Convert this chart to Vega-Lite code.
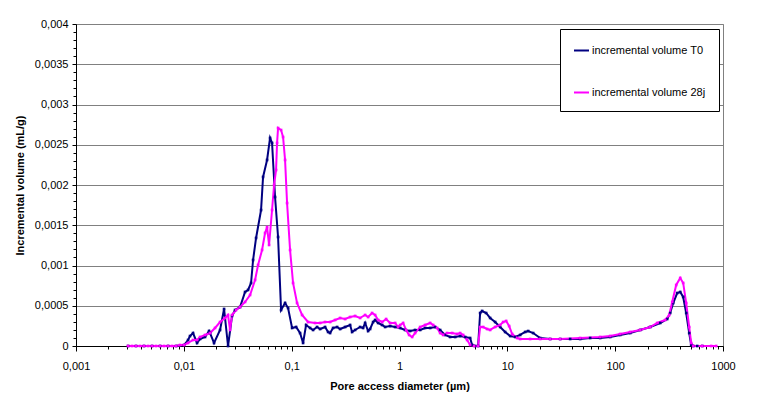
{
  "$schema": "https://vega.github.io/schema/vega-lite/v6.json",
  "width": 647,
  "height": 322,
  "autosize": {"type": "none"},
  "padding": {"left": 76, "top": 24, "right": 42, "bottom": 52},
  "background": "white",
  "config": {
    "font": "Liberation Sans",
    "view": {"stroke": "#808080", "strokeWidth": 1},
    "axis": {"domainColor": "black", "tickColor": "black", "labelColor": "black", "titleColor": "black", "labelFontSize": 11, "titleFontSize": 11, "titleFontWeight": "bold", "labelFont": "Liberation Sans", "titleFont": "Liberation Sans"}
  },
  "data": {"values": [
    {"series":"incremental volume T0","d":0.00304,"v":0},
    {"series":"incremental volume T0","d":0.0036,"v":0},
    {"series":"incremental volume T0","d":0.00427,"v":0},
    {"series":"incremental volume T0","d":0.00507,"v":0},
    {"series":"incremental volume T0","d":0.00602,"v":0},
    {"series":"incremental volume T0","d":0.00714,"v":0},
    {"series":"incremental volume T0","d":0.00847,"v":0},
    {"series":"incremental volume T0","d":0.01004,"v":0.0000124},
    {"series":"incremental volume T0","d":0.01094,"v":0.0000745},
    {"series":"incremental volume T0","d":0.01141,"v":0.000124},
    {"series":"incremental volume T0","d":0.01217,"v":0.000161},
    {"series":"incremental volume T0","d":0.01326,"v":0.0000373},
    {"series":"incremental volume T0","d":0.01413,"v":0.000087},
    {"series":"incremental volume T0","d":0.01573,"v":0.000112},
    {"series":"incremental volume T0","d":0.01713,"v":0.000186},
    {"series":"incremental volume T0","d":0.0175,"v":0.000161},
    {"series":"incremental volume T0","d":0.01906,"v":0.0000373},
    {"series":"incremental volume T0","d":0.02167,"v":0.000199},
    {"series":"incremental volume T0","d":0.02361,"v":0.00046},
    {"series":"incremental volume T0","d":0.0257,"v":0},
    {"series":"incremental volume T0","d":0.028,"v":0.000373},
    {"series":"incremental volume T0","d":0.02985,"v":0.000447},
    {"series":"incremental volume T0","d":0.03321,"v":0.000484},
    {"series":"incremental volume T0","d":0.03697,"v":0.000671},
    {"series":"incremental volume T0","d":0.0394,"v":0.000696},
    {"series":"incremental volume T0","d":0.04202,"v":0.000783},
    {"series":"incremental volume T0","d":0.04386,"v":0.001068},
    {"series":"incremental volume T0","d":0.04676,"v":0.001342},
    {"series":"incremental volume T0","d":0.05202,"v":0.001689},
    {"series":"incremental volume T0","d":0.05429,"v":0.0021},
    {"series":"incremental volume T0","d":0.05914,"v":0.002311},
    {"series":"incremental volume T0","d":0.06305,"v":0.002584},
    {"series":"incremental volume T0","d":0.06579,"v":0.002522},
    {"series":"incremental volume T0","d":0.07015,"v":0.001851},
    {"series":"incremental volume T0","d":0.07479,"v":0.001354},
    {"series":"incremental volume T0","d":0.07975,"v":0.000447},
    {"series":"incremental volume T0","d":0.08686,"v":0.000534},
    {"series":"incremental volume T0","d":0.09261,"v":0.000472},
    {"series":"incremental volume T0","d":0.1009,"v":0.000224},
    {"series":"incremental volume T0","d":0.1099,"v":0.000236},
    {"series":"incremental volume T0","d":0.1196,"v":0.000161},
    {"series":"incremental volume T0","d":0.1276,"v":0.0000373},
    {"series":"incremental volume T0","d":0.136,"v":0.000261},
    {"series":"incremental volume T0","d":0.1482,"v":0.000224},
    {"series":"incremental volume T0","d":0.1579,"v":0.000199},
    {"series":"incremental volume T0","d":0.172,"v":0.000236},
    {"series":"incremental volume T0","d":0.1834,"v":0.000211},
    {"series":"incremental volume T0","d":0.2041,"v":0.000236},
    {"series":"incremental volume T0","d":0.2176,"v":0.000174},
    {"series":"incremental volume T0","d":0.2271,"v":0.000161},
    {"series":"incremental volume T0","d":0.2421,"v":0.000224},
    {"series":"incremental volume T0","d":0.2638,"v":0.000236},
    {"series":"incremental volume T0","d":0.2812,"v":0.000211},
    {"series":"incremental volume T0","d":0.313,"v":0.000236},
    {"series":"incremental volume T0","d":0.3482,"v":0.000261},
    {"series":"incremental volume T0","d":0.3634,"v":0.000174},
    {"series":"incremental volume T0","d":0.3874,"v":0.000199},
    {"series":"incremental volume T0","d":0.4311,"v":0.000236},
    {"series":"incremental volume T0","d":0.4596,"v":0.000224},
    {"series":"incremental volume T0","d":0.4798,"v":0.000286},
    {"series":"incremental volume T0","d":0.5114,"v":0.000186},
    {"series":"incremental volume T0","d":0.5339,"v":0.000211},
    {"series":"incremental volume T0","d":0.569,"v":0.000298},
    {"series":"incremental volume T0","d":0.5938,"v":0.000323},
    {"series":"incremental volume T0","d":0.6332,"v":0.000286},
    {"series":"incremental volume T0","d":0.6898,"v":0.000261},
    {"series":"incremental volume T0","d":0.7353,"v":0.000236},
    {"series":"incremental volume T0","d":0.8182,"v":0.000248},
    {"series":"incremental volume T0","d":0.9105,"v":0.000236},
    {"series":"incremental volume T0","d":1.013,"v":0.000224},
    {"series":"incremental volume T0","d":1.127,"v":0.000199},
    {"series":"incremental volume T0","d":1.254,"v":0.000186},
    {"series":"incremental volume T0","d":1.395,"v":0.000199},
    {"series":"incremental volume T0","d":1.553,"v":0.000199},
    {"series":"incremental volume T0","d":1.728,"v":0.000224},
    {"series":"incremental volume T0","d":1.923,"v":0.000224},
    {"series":"incremental volume T0","d":2.14,"v":0.000236},
    {"series":"incremental volume T0","d":2.381,"v":0.000199},
    {"series":"incremental volume T0","d":2.649,"v":0.000137},
    {"series":"incremental volume T0","d":2.948,"v":0.000112},
    {"series":"incremental volume T0","d":3.28,"v":0.000112},
    {"series":"incremental volume T0","d":3.65,"v":0.000124},
    {"series":"incremental volume T0","d":4.061,"v":0.000112},
    {"series":"incremental volume T0","d":4.518,"v":0.0000994},
    {"series":"incremental volume T0","d":4.716,"v":0.0000124},
    {"series":"incremental volume T0","d":5.027,"v":0},
    {"series":"incremental volume T0","d":5.359,"v":0},
    {"series":"incremental volume T0","d":5.593,"v":0.00041},
    {"series":"incremental volume T0","d":5.837,"v":0.000435},
    {"series":"incremental volume T0","d":6.358,"v":0.00041},
    {"series":"incremental volume T0","d":6.925,"v":0.000348},
    {"series":"incremental volume T0","d":7.706,"v":0.000298},
    {"series":"incremental volume T0","d":8.576,"v":0.000236},
    {"series":"incremental volume T0","d":9.541,"v":0.000174},
    {"series":"incremental volume T0","d":10.62,"v":0.000124},
    {"series":"incremental volume T0","d":11.82,"v":0.000112},
    {"series":"incremental volume T0","d":13.15,"v":0.000137},
    {"series":"incremental volume T0","d":14.63,"v":0.000174},
    {"series":"incremental volume T0","d":15.6,"v":0.000186},
    {"series":"incremental volume T0","d":17.36,"v":0.000161},
    {"series":"incremental volume T0","d":20.16,"v":0.0000994},
    {"series":"incremental volume T0","d":24.95,"v":0.000087},
    {"series":"incremental volume T0","d":30.9,"v":0.000087},
    {"series":"incremental volume T0","d":38.24,"v":0.000087},
    {"series":"incremental volume T0","d":47.35,"v":0.000087},
    {"series":"incremental volume T0","d":58.63,"v":0.0000994},
    {"series":"incremental volume T0","d":72.59,"v":0.0000994},
    {"series":"incremental volume T0","d":89.87,"v":0.000112},
    {"series":"incremental volume T0","d":111.3,"v":0.000137},
    {"series":"incremental volume T0","d":137.8,"v":0.000161},
    {"series":"incremental volume T0","d":170.6,"v":0.000199},
    {"series":"incremental volume T0","d":211.2,"v":0.000236},
    {"series":"incremental volume T0","d":261.5,"v":0.000286},
    {"series":"incremental volume T0","d":303.6,"v":0.000335},
    {"series":"incremental volume T0","d":323.8,"v":0.00041},
    {"series":"incremental volume T0","d":345.2,"v":0.000534},
    {"series":"incremental volume T0","d":376.1,"v":0.000658},
    {"series":"incremental volume T0","d":401.1,"v":0.000671},
    {"series":"incremental volume T0","d":427.3,"v":0.000609},
    {"series":"incremental volume T0","d":455.6,"v":0.00041},
    {"series":"incremental volume T0","d":485.9,"v":0.000161},
    {"series":"incremental volume T0","d":507,"v":0.0000124},
    {"series":"incremental volume T0","d":529,"v":0},
    {"series":"incremental volume T0","d":576.3,"v":0},
    {"series":"incremental volume T0","d":641.4,"v":0},
    {"series":"incremental volume 28j","d":0.00304,"v":0},
    {"series":"incremental volume 28j","d":0.00331,"v":0},
    {"series":"incremental volume 28j","d":0.0036,"v":0},
    {"series":"incremental volume 28j","d":0.00392,"v":0},
    {"series":"incremental volume 28j","d":0.00427,"v":0},
    {"series":"incremental volume 28j","d":0.00466,"v":0},
    {"series":"incremental volume 28j","d":0.00507,"v":0},
    {"series":"incremental volume 28j","d":0.00552,"v":0},
    {"series":"incremental volume 28j","d":0.00602,"v":0},
    {"series":"incremental volume 28j","d":0.00655,"v":0},
    {"series":"incremental volume 28j","d":0.00714,"v":0},
    {"series":"incremental volume 28j","d":0.00777,"v":0},
    {"series":"incremental volume 28j","d":0.00847,"v":0},
    {"series":"incremental volume 28j","d":0.00922,"v":0.0000124},
    {"series":"incremental volume 28j","d":0.01004,"v":0.0000124},
    {"series":"incremental volume 28j","d":0.01094,"v":0.0000373},
    {"series":"incremental volume 28j","d":0.01217,"v":0.0000745},
    {"series":"incremental volume 28j","d":0.01326,"v":0.0000745},
    {"series":"incremental volume 28j","d":0.01413,"v":0.000112},
    {"series":"incremental volume 28j","d":0.01573,"v":0.000137},
    {"series":"incremental volume 28j","d":0.0175,"v":0.000161},
    {"series":"incremental volume 28j","d":0.01947,"v":0.000224},
    {"series":"incremental volume 28j","d":0.02167,"v":0.000298},
    {"series":"incremental volume 28j","d":0.02411,"v":0.000348},
    {"series":"incremental volume 28j","d":0.0257,"v":0.000385},
    {"series":"incremental volume 28j","d":0.02683,"v":0.000199},
    {"series":"incremental volume 28j","d":0.028,"v":0.000385},
    {"series":"incremental volume 28j","d":0.0305,"v":0.000447},
    {"series":"incremental volume 28j","d":0.03321,"v":0.000484},
    {"series":"incremental volume 28j","d":0.03697,"v":0.000547},
    {"series":"incremental volume 28j","d":0.04113,"v":0.000634},
    {"series":"incremental volume 28j","d":0.04577,"v":0.00082},
    {"series":"incremental volume 28j","d":0.0488,"v":0.001006},
    {"series":"incremental volume 28j","d":0.05314,"v":0.001193},
    {"series":"incremental volume 28j","d":0.05666,"v":0.001404},
    {"series":"incremental volume 28j","d":0.05914,"v":0.001478},
    {"series":"incremental volume 28j","d":0.06172,"v":0.001255},
    {"series":"incremental volume 28j","d":0.06579,"v":0.001689},
    {"series":"incremental volume 28j","d":0.06867,"v":0.002},
    {"series":"incremental volume 28j","d":0.07167,"v":0.002186},
    {"series":"incremental volume 28j","d":0.07321,"v":0.002522},
    {"series":"incremental volume 28j","d":0.07479,"v":0.002708},
    {"series":"incremental volume 28j","d":0.07975,"v":0.002683},
    {"series":"incremental volume 28j","d":0.08322,"v":0.002596},
    {"series":"incremental volume 28j","d":0.08686,"v":0.002311},
    {"series":"incremental volume 28j","d":0.09065,"v":0.001776},
    {"series":"incremental volume 28j","d":0.09665,"v":0.001193},
    {"series":"incremental volume 28j","d":0.103,"v":0.000783},
    {"series":"incremental volume 28j","d":0.1122,"v":0.000534},
    {"series":"incremental volume 28j","d":0.1249,"v":0.000385},
    {"series":"incremental volume 28j","d":0.1419,"v":0.000298},
    {"series":"incremental volume 28j","d":0.1649,"v":0.000286},
    {"series":"incremental volume 28j","d":0.1834,"v":0.000286},
    {"series":"incremental volume 28j","d":0.2041,"v":0.000298},
    {"series":"incremental volume 28j","d":0.2271,"v":0.000298},
    {"series":"incremental volume 28j","d":0.2527,"v":0.000323},
    {"series":"incremental volume 28j","d":0.2812,"v":0.000348},
    {"series":"incremental volume 28j","d":0.313,"v":0.000335},
    {"series":"incremental volume 28j","d":0.3482,"v":0.00036},
    {"series":"incremental volume 28j","d":0.3874,"v":0.000373},
    {"series":"incremental volume 28j","d":0.4311,"v":0.000348},
    {"series":"incremental volume 28j","d":0.4798,"v":0.000385},
    {"series":"incremental volume 28j","d":0.5114,"v":0.00036},
    {"series":"incremental volume 28j","d":0.5569,"v":0.00041},
    {"series":"incremental volume 28j","d":0.5938,"v":0.000385},
    {"series":"incremental volume 28j","d":0.6332,"v":0.000323},
    {"series":"incremental volume 28j","d":0.6898,"v":0.000298},
    {"series":"incremental volume 28j","d":0.7512,"v":0.000335},
    {"series":"incremental volume 28j","d":0.8182,"v":0.000286},
    {"series":"incremental volume 28j","d":0.9105,"v":0.000286},
    {"series":"incremental volume 28j","d":0.9705,"v":0.000236},
    {"series":"incremental volume 28j","d":1.013,"v":0.000261},
    {"series":"incremental volume 28j","d":1.08,"v":0.000286},
    {"series":"incremental volume 28j","d":1.151,"v":0.000199},
    {"series":"incremental volume 28j","d":1.228,"v":0.000137},
    {"series":"incremental volume 28j","d":1.309,"v":0.000112},
    {"series":"incremental volume 28j","d":1.395,"v":0.000161},
    {"series":"incremental volume 28j","d":1.553,"v":0.000236},
    {"series":"incremental volume 28j","d":1.728,"v":0.000261},
    {"series":"incremental volume 28j","d":1.923,"v":0.000286},
    {"series":"incremental volume 28j","d":2.05,"v":0.000261},
    {"series":"incremental volume 28j","d":2.233,"v":0.000224},
    {"series":"incremental volume 28j","d":2.381,"v":0.000161},
    {"series":"incremental volume 28j","d":2.539,"v":0.000137},
    {"series":"incremental volume 28j","d":2.765,"v":0.000161},
    {"series":"incremental volume 28j","d":3.076,"v":0.000161},
    {"series":"incremental volume 28j","d":3.423,"v":0.000149},
    {"series":"incremental volume 28j","d":3.65,"v":0.000161},
    {"series":"incremental volume 28j","d":3.891,"v":0.000137},
    {"series":"incremental volume 28j","d":4.238,"v":0.0000745},
    {"series":"incremental volume 28j","d":4.518,"v":0.0000124},
    {"series":"incremental volume 28j","d":4.921,"v":0},
    {"series":"incremental volume 28j","d":5.359,"v":0},
    {"series":"incremental volume 28j","d":5.593,"v":0.000236},
    {"series":"incremental volume 28j","d":5.963,"v":0.000236},
    {"series":"incremental volume 28j","d":6.495,"v":0.000211},
    {"series":"incremental volume 28j","d":6.925,"v":0.000199},
    {"series":"incremental volume 28j","d":7.706,"v":0.000236},
    {"series":"incremental volume 28j","d":8.576,"v":0.000261},
    {"series":"incremental volume 28j","d":9.143,"v":0.000298},
    {"series":"incremental volume 28j","d":9.748,"v":0.000311},
    {"series":"incremental volume 28j","d":10.39,"v":0.000248},
    {"series":"incremental volume 28j","d":11.08,"v":0.000149},
    {"series":"incremental volume 28j","d":12.33,"v":0.0000994},
    {"series":"incremental volume 28j","d":13.15,"v":0.000087},
    {"series":"incremental volume 28j","d":16.27,"v":0.000087},
    {"series":"incremental volume 28j","d":20.16,"v":0.000087},
    {"series":"incremental volume 28j","d":24.95,"v":0.000087},
    {"series":"incremental volume 28j","d":30.9,"v":0.000087},
    {"series":"incremental volume 28j","d":47.35,"v":0.0000994},
    {"series":"incremental volume 28j","d":72.59,"v":0.000112},
    {"series":"incremental volume 28j","d":89.87,"v":0.000124},
    {"series":"incremental volume 28j","d":111.3,"v":0.000149},
    {"series":"incremental volume 28j","d":137.8,"v":0.000174},
    {"series":"incremental volume 28j","d":170.6,"v":0.000199},
    {"series":"incremental volume 28j","d":211.2,"v":0.000236},
    {"series":"incremental volume 28j","d":245.2,"v":0.000286},
    {"series":"incremental volume 28j","d":290.9,"v":0.000323},
    {"series":"incremental volume 28j","d":317,"v":0.000385},
    {"series":"incremental volume 28j","d":338,"v":0.000547},
    {"series":"incremental volume 28j","d":368.1,"v":0.000758},
    {"series":"incremental volume 28j","d":401.1,"v":0.000845},
    {"series":"incremental volume 28j","d":427.3,"v":0.000783},
    {"series":"incremental volume 28j","d":455.6,"v":0.000534},
    {"series":"incremental volume 28j","d":485.9,"v":0.000236},
    {"series":"incremental volume 28j","d":507,"v":0.0000373},
    {"series":"incremental volume 28j","d":529,"v":0},
    {"series":"incremental volume 28j","d":641.4,"v":0},
    {"series":"incremental volume 28j","d":777.1,"v":0},
    {"series":"incremental volume 28j","d":865,"v":0}
  ]},
  "mark": {"type": "line", "strokeWidth": 2, "point": {"filled": true, "size": 7, "shape": "square"}},
  "encoding": {
    "x": {
      "field": "d", "type": "quantitative",
      "scale": {"type": "log", "domain": [0.001, 1000], "nice": false},
      "axis": {
        "title": "Pore access diameter (µm)",
        "values": [0.001,0.002,0.003,0.004,0.005,0.006,0.007,0.008,0.009,0.01,0.02,0.03,0.04,0.05,0.06,0.07,0.08,0.09,0.1,0.2,0.3,0.4,0.5,0.6,0.7,0.8,0.9,1,2,3,4,5,6,7,8,9,10,20,30,40,50,60,70,80,90,100,200,300,400,500,600,700,800,900,1000],
        "labelExpr": "abs(log(datum.value)/LN10 - round(log(datum.value)/LN10)) < 0.0001 ? replace(format(datum.value, '~g'), '.', ',') : ''",
        "labelOverlap": false,
        "labelFlush": false,
        "grid": false,
        "tickSize": {"condition": {"test": "abs(log(datum.value)/LN10 - round(log(datum.value)/LN10)) < 0.0001", "value": 5}, "value": 3},
        "labelPadding": 9,
        "titlePadding": 9
      }
    },
    "y": {
      "field": "v", "type": "quantitative",
      "scale": {"domain": [0, 0.004], "nice": false, "zero": true},
      "axis": {
        "title": "Incremental volume (mL/g)",
        "values": [0,0.0001,0.0002,0.0003,0.0004,0.0005,0.0006,0.0007,0.0008,0.0009,0.001,0.0011,0.0012,0.0013,0.0014,0.0015,0.0016,0.0017,0.0018,0.0019,0.002,0.0021,0.0022,0.0023,0.0024,0.0025,0.0026,0.0027,0.0028,0.0029,0.003,0.0031,0.0032,0.0033,0.0034,0.0035,0.0036,0.0037,0.0038,0.0039,0.004],
        "labelExpr": "round(datum.value*10000) % 5 == 0 ? replace(format(datum.value, '~g'), '.', ',') : ''",
        "labelOverlap": false,
        "labelFlush": false,
        "grid": true,
        "gridColor": "#808080",
        "gridOpacity": {"condition": {"test": "round(datum.value*10000) % 5 == 0", "value": 1}, "value": 0},
        "tickSize": {"condition": {"test": "round(datum.value*10000) % 5 == 0", "value": 4}, "value": 3},
        "labelPadding": 4,
        "titlePadding": 9
      }
    },
    "color": {
      "field": "series", "type": "nominal",
      "scale": {"domain": ["incremental volume T0", "incremental volume 28j"], "range": ["#000080", "#FF00FF"]},
      "legend": {
        "title": null,
        "orient": "none",
        "legendX": 484,
        "legendY": 5,
        "strokeColor": "black",
        "fillColor": "white",
        "padding": 13,
        "rowPadding": 28,
        "labelFontSize": 11,
        "labelFont": "Liberation Sans",
        "labelColor": "black",
        "labelLimit": 0,
        "labelOffset": 2,
        "symbolType": "stroke",
        "symbolSize": 225,
        "symbolStrokeWidth": 2
      }
    }
  }
}
